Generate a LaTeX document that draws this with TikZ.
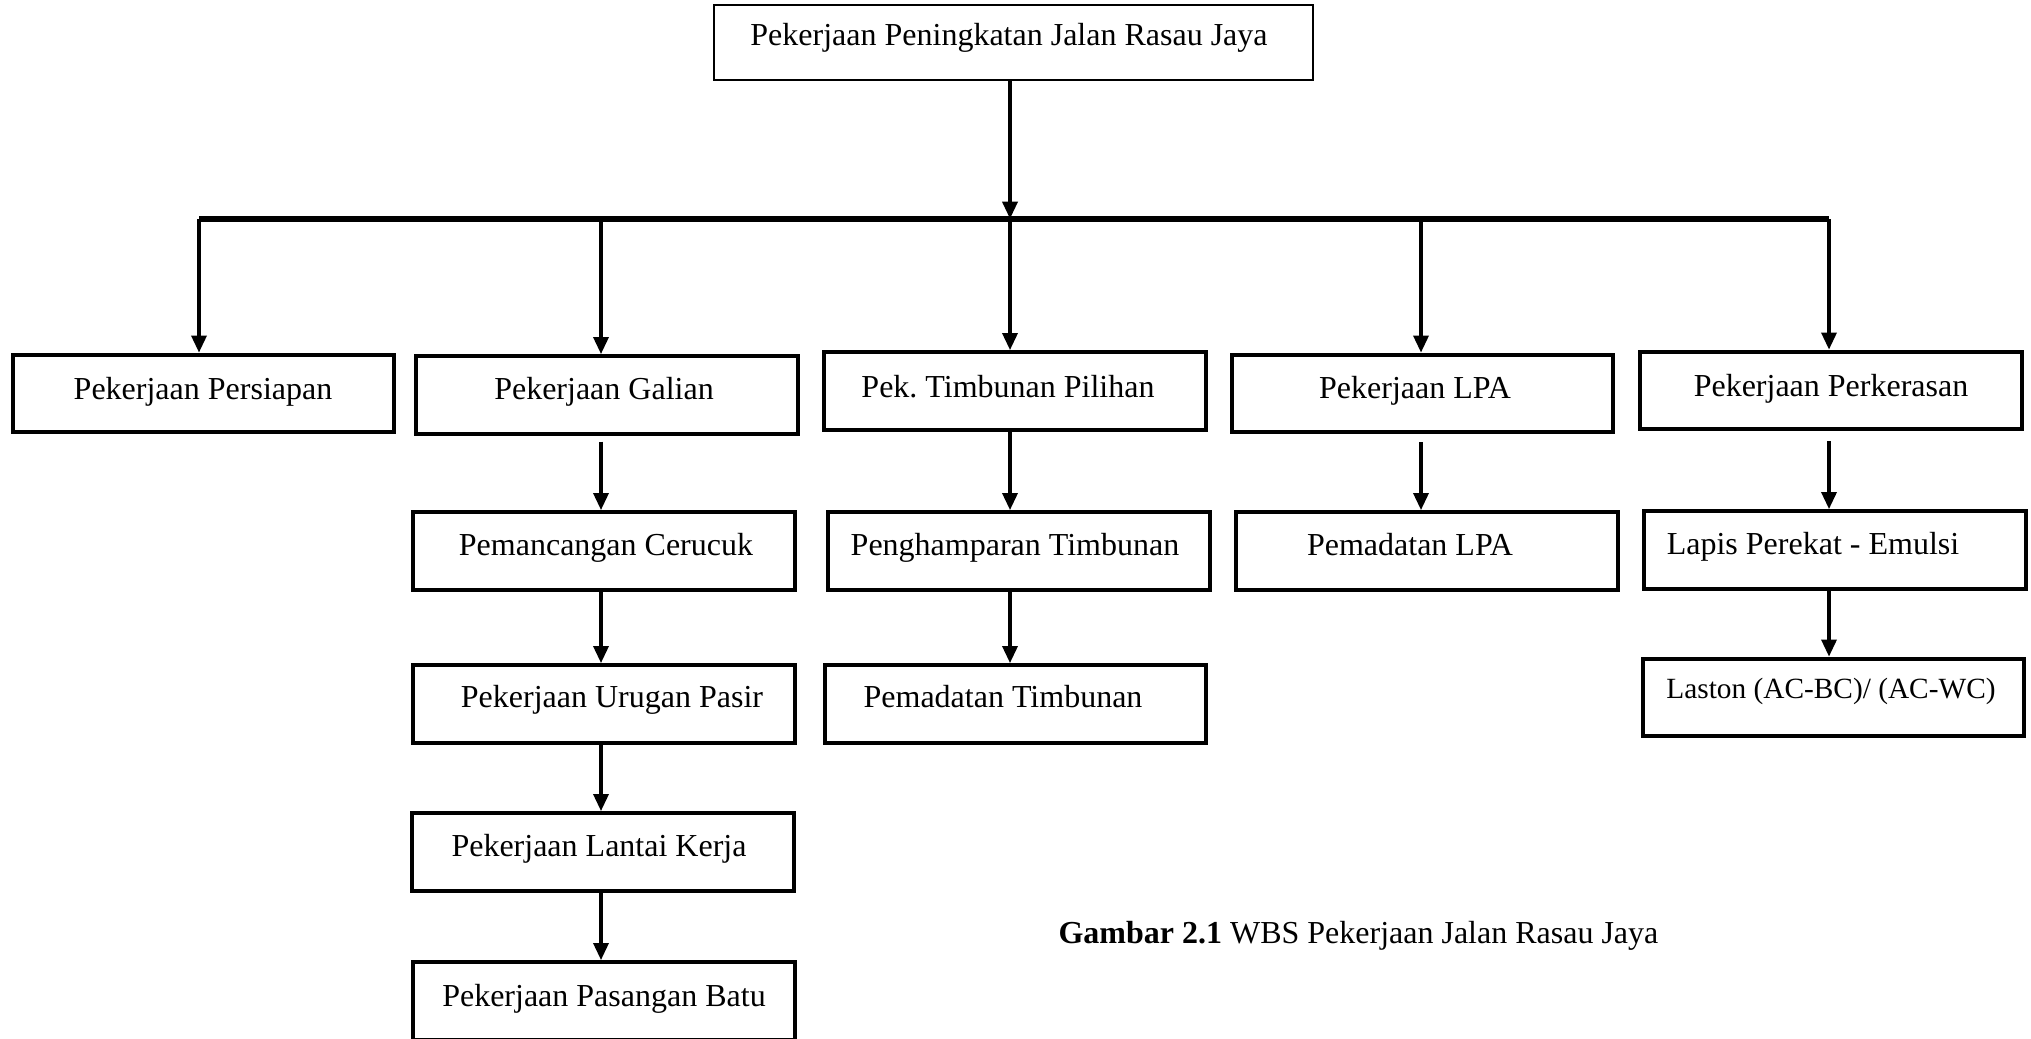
\documentclass[tikz,border=0pt]{standalone}
\usepackage{fontspec}
\setmainfont{Liberation Serif}
\usetikzlibrary{arrows.meta}
\frenchspacing
\begin{document}
\begin{tikzpicture}[x=0.375pt,y=-0.375pt,
  wbox/.style={draw, line width=1.5pt, minimum width=143pt, minimum height=29pt, inner sep=0pt},
  topbox/.style={draw, line width=0.6pt, minimum width=224.6pt, minimum height=28.1pt, inner sep=0pt},
  lbl/.style={anchor=base, inner sep=0pt, font=\fontsize{12}{14}\selectfont},
  arr/.style={line width=1.6pt, -{Triangle[length=6.5pt,width=5.5pt]}},
  busline/.style={line width=1.9pt}]
\useasboundingbox (0,0) rectangle (2031,1038);
\clip (0,0) rectangle (2031,1038);

% boxes
\node[topbox] (top) at (1013.5,42.5) {};
\node[wbox] (A) at (203.5,393.5) {};
\node[wbox] (B) at (607,395) {};
\node[wbox] (C) at (1015,391) {};
\node[wbox] (D) at (1422.5,393.5) {};
\node[wbox] (E) at (1831,390.5) {};
\node[wbox] (B1) at (604,551) {};
\node[wbox] (C1) at (1019,551) {};
\node[wbox] (D1) at (1427,551) {};
\node[wbox] (E1) at (1835,550) {};
\node[wbox] (B2) at (604,704) {};
\node[wbox] (C2) at (1015.5,704) {};
\node[wbox] (E2) at (1833.5,697.5) {};
\node[wbox] (B3) at (603,852) {};
\node[wbox] (B4) at (604,1001) {};

% labels
\node[lbl] (ttop) at (1009,45) {Pekerjaan Peningkatan Jalan Rasau Jaya};
\node[lbl] (tA) at (203,399) {Pekerjaan Persiapan};
\node[lbl] (tB) at (604,399) {Pekerjaan Galian};
\node[lbl] (tC) at (1008,397) {Pek.\ Timbunan Pilihan};
\node[lbl] (tD) at (1415,398) {Pekerjaan LPA};
\node[lbl] (tE) at (1831,396) {Pekerjaan Perkerasan};
\node[lbl] (tB1) at (606,555) {Pemancangan Cerucuk};
\node[lbl] (tC1) at (1015,555) {Penghamparan Timbunan};
\node[lbl] (tD1) at (1410,555) {Pemadatan LPA};
\node[lbl] (tE1) at (1813,554) {Lapis Perekat - Emulsi};
\node[lbl] (tB2) at (612,707) {Pekerjaan Urugan Pasir};
\node[lbl] (tC2) at (1003,707) {Pemadatan Timbunan};
\node[lbl, font=\fontsize{11}{13}\selectfont] (tE2) at (1831,698) {Laston (AC-BC)/ (AC-WC)};
\node[lbl] (tB3) at (599,856) {Pekerjaan Lantai Kerja};
\node[lbl] (tB4) at (604,1006) {Pekerjaan Pasangan Batu};

\node[anchor=base west, inner sep=0pt, font=\fontsize{12}{14}\selectfont] (cap) at (1058,943) {\textbf{Gambar 2.1} WBS Pekerjaan Jalan Rasau Jaya};

% bus
\coordinate (bus) at (1010,219);
\coordinate (colB) at (601,0);
\coordinate (colC) at (1010,0);
\coordinate (colD) at (1421,0);
\coordinate (colE) at (1829,0);
\coordinate (colA) at (199,0);

\draw[busline] (colA |- bus) -- (colE |- bus);
\draw[arr] (top.south -| bus) -- (bus);
\foreach \n in {A,B,C,D,E}{
  \draw[arr] (col\n |- bus) -- (col\n |- \n.north);
}

% vertical chains
\draw[arr] ([yshift=-2.2pt]B.south -| colB) -- (B1.north -| colB);
\draw[arr] (B1.south -| colB) -- (B2.north -| colB);
\draw[arr] (B2.south -| colB) -- (B3.north -| colB);
\draw[arr] (B3.south -| colB) -- (B4.north -| colB);
\draw[arr] (C.south -| colC) -- (C1.north -| colC);
\draw[arr] (C1.south -| colC) -- (C2.north -| colC);
\draw[arr] ([yshift=-3pt]D.south -| colD) -- (D1.north -| colD);
\draw[arr] ([yshift=-3.8pt]E.south -| colE) -- (E1.north -| colE);
\draw[arr] (E1.south -| colE) -- (E2.north -| colE);
\end{tikzpicture}
\end{document}
